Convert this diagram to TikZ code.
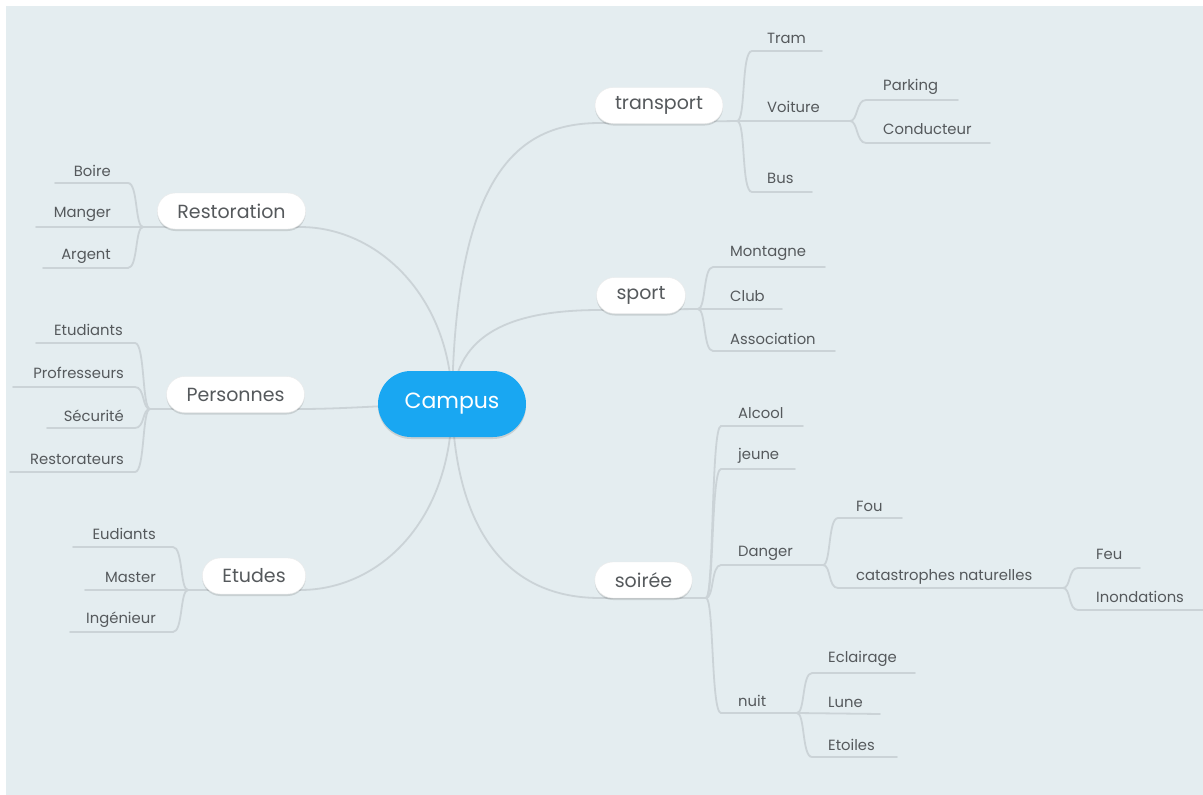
\documentclass[tikz,border=0pt]{standalone}
\usepackage{fontspec}
\setmainfont{Poppins}
\usetikzlibrary{shadows}
\definecolor{bgc}{HTML}{E4EDF0}
\definecolor{lnc}{HTML}{CBD3D7}
\definecolor{txc}{HTML}{55595C}
\definecolor{cmp}{HTML}{19A7F2}
\pgfdeclarelayer{back}
\pgfdeclarelayer{lines}
\pgfsetlayers{back,lines,main}
\tikzset{
  ln/.style={draw=lnc, line width=1.8pt, line cap=round},
  leaf/.style={font=\fontsize{14.8}{16}\selectfont, text=txc, inner sep=0pt},
  lleaf/.style={leaf, anchor=east},
  rleaf/.style={leaf, anchor=west},
  pill/.style={fill=white, draw=white!92!black, line width=0.4pt, rounded corners=18pt,
    minimum height=36pt, inner xsep=20pt, text=txc, font=\fontsize{19}{21}\selectfont,
    drop shadow={shadow xshift=0pt, shadow yshift=-2pt, fill=black, opacity=0.12}},
  hub/.style={fill=cmp, rounded corners=33pt, minimum height=66pt, minimum width=148pt,
    text=white, font=\fontsize{22}{24}\selectfont,
    drop shadow={shadow xshift=0pt, shadow yshift=-2pt, fill=black, opacity=0.12}},
}
\begin{document}
\begin{tikzpicture}[x=1pt,y=-1pt]
\useasboundingbox (0,0) rectangle (1203,795);
\begin{pgfonlayer}{back}
\fill[white] (0,0) rectangle (1203,795);
\fill[bgc] (6,6) rectangle (1203,795);
\end{pgfonlayer}

% hub and main nodes
\node[hub] (campus) at (452,404) {Campus};
\node[pill] (transport) at (659,105.5) {transport};
\node[pill] (sport) at (641,295.5) {sport};
\node[pill] (soiree) at (643.5,580) {soirée};
\node[pill] (restoration) at (231.5,211) {Restoration};
\node[pill] (personnes) at (235.5,394.5) {Personnes};
\node[pill] (etudes) at (254,576) {Etudes};

% junction coordinates
\coordinate (tr-j) at (737,121);
\coordinate (vo-j) at (850,121);
\coordinate (sp-j) at (698,309);
\coordinate (so-j) at (706,598);
\coordinate (da-j) at (823,565);
\coordinate (ca-j) at (1063,588);
\coordinate (nu-j) at (797,713);
\coordinate (re-j) at (143,227);
\coordinate (pe-j) at (150,409);
\coordinate (et-j) at (188,590);

% underline coordinates (start, end)
\coordinate (tram-s) at (752,51);  \coordinate (tram-e) at (822,51);
\coordinate (bus-s) at (752,192);  \coordinate (bus-e) at (812,192);
\coordinate (park-s) at (866,100); \coordinate (park-e) at (958,100);
\coordinate (cond-s) at (866,143); \coordinate (cond-e) at (990,143);
\coordinate (mont-s) at (713,267); \coordinate (mont-e) at (825,267);
\coordinate (club-e) at (782,309);
\coordinate (asso-s) at (713,351); \coordinate (asso-e) at (835,351);
\coordinate (alc-s) at (721,426);  \coordinate (alc-e) at (803,426);
\coordinate (jeu-s) at (721,469);  \coordinate (jeu-e) at (795,469);
\coordinate (dan-s) at (721,565);
\coordinate (nui-s) at (721,713);
\coordinate (fou-s) at (838,518);  \coordinate (fou-e) at (902,518);
\coordinate (cat-s) at (838,588);
\coordinate (feu-s) at (1078,568); \coordinate (feu-e) at (1140,568);
\coordinate (ino-s) at (1078,610); \coordinate (ino-e) at (1203,610);
\coordinate (ecl-s) at (812,673);  \coordinate (ecl-e) at (915,673);
\coordinate (lun-e) at (880,714);
\coordinate (eto-s) at (812,757);  \coordinate (eto-e) at (897,757);
\coordinate (boi-s) at (128,183);  \coordinate (boi-e) at (55,183);
\coordinate (man-e) at (36,227);
\coordinate (arg-s) at (128,268);  \coordinate (arg-e) at (43,268);
\coordinate (etu-s) at (135,343);  \coordinate (etu-e) at (36,343);
\coordinate (pro-s) at (135,387);  \coordinate (pro-e) at (13,387);
\coordinate (sec-s) at (135,428);  \coordinate (sec-e) at (47,428);
\coordinate (rst-s) at (135,472);  \coordinate (rst-e) at (10,472);
\coordinate (eud-s) at (173,547);  \coordinate (eud-e) at (73,547);
\coordinate (mas-e) at (85,590);
\coordinate (ing-s) at (173,632);  \coordinate (ing-e) at (70,632);

% leaf labels
\node[rleaf] (tram) at (767,38) {Tram};
\node[rleaf] (voiture) at (767,107) {Voiture};
\node[rleaf] (bus) at (767,178) {Bus};
\node[rleaf] (parking) at (883,87) {Parking};
\node[rleaf] (conducteur) at (883,129) {Conducteur};
\node[rleaf] (montagne) at (730,253) {Montagne};
\node[rleaf] (club) at (730,296) {Club};
\node[rleaf] (association) at (730,339) {Association};
\node[rleaf] (alcool) at (738,413) {Alcool};
\node[rleaf] (jeune) at (738,456) {jeune};
\node[rleaf] (danger) at (738,553) {Danger};
\node[rleaf] (nuit) at (738,701) {nuit};
\node[rleaf] (fou) at (856,506) {Fou};
\node[rleaf] (catas) at (856,577) {catastrophes naturelles};
\node[rleaf] (feu) at (1096,554) {Feu};
\node[rleaf] (inond) at (1096,597) {Inondations};
\node[rleaf] (eclairage) at (828,659) {Eclairage};
\node[rleaf] (lune) at (828,702) {Lune};
\node[rleaf] (etoiles) at (828,745) {Etoiles};
\node[lleaf] (boire) at (111,171) {Boire};
\node[lleaf] (manger) at (111,214) {Manger};
\node[lleaf] (argent) at (111,256) {Argent};
\node[lleaf] (etudiants) at (123,330) {Etudiants};
\node[lleaf] (prof) at (124,373) {Profresseurs};
\node[lleaf] (secu) at (124,416) {Sécurité};
\node[lleaf] (restorateurs) at (124,459) {Restorateurs};
\node[lleaf] (eudiants) at (156,534) {Eudiants};
\node[lleaf] (master) at (156,577) {Master};
\node[lleaf] (inge) at (156,620) {Ingénieur};

\begin{pgfonlayer}{lines}
% main branches
\draw[ln] (campus.center) .. controls (455,170) and (520,123) .. (600,123) -- (tr-j);
\draw[ln] (campus.center) .. controls (455,340) and (500,310) .. (600,310) -- (sp-j);
\draw[ln] (campus.center) .. controls (455,520) and (500,598) .. (600,598) -- (so-j);
\draw[ln] (campus.center) .. controls (452,300) and (380,227) .. (300,227) -- (re-j);
\draw[ln] (campus.center) .. controls (400,404) and (350,409) .. (300,409) -- (pe-j);
\draw[ln] (campus.center) .. controls (452,520) and (380,590) .. (300,590) -- (et-j);
% transport
\draw[ln] (tr-j) .. controls +(9,0) and +(-11,0) .. (tram-s) -- (tram-e);
\draw[ln] (tr-j) -- (vo-j);
\draw[ln] (tr-j) .. controls +(9,0) and +(-11,0) .. (bus-s) -- (bus-e);
\draw[ln] (vo-j) .. controls +(8,0) and +(-10,0) .. (park-s) -- (park-e);
\draw[ln] (vo-j) .. controls +(8,0) and +(-10,0) .. (cond-s) -- (cond-e);
% sport
\draw[ln] (sp-j) .. controls +(8,0) and +(-10,0) .. (mont-s) -- (mont-e);
\draw[ln] (sp-j) -- (club-e);
\draw[ln] (sp-j) .. controls +(8,0) and +(-10,0) .. (asso-s) -- (asso-e);
% soiree
\draw[ln] (so-j) .. controls +(8,0) and +(-10,0) .. (alc-s) -- (alc-e);
\draw[ln] (so-j) .. controls +(8,0) and +(-10,0) .. (jeu-s) -- (jeu-e);
\draw[ln] (so-j) .. controls +(8,0) and +(-10,0) .. (dan-s) -- (da-j);
\draw[ln] (so-j) .. controls +(8,0) and +(-10,0) .. (nui-s) -- (nu-j);
\draw[ln] (da-j) .. controls +(8,0) and +(-10,0) .. (fou-s) -- (fou-e);
\draw[ln] (da-j) .. controls +(8,0) and +(-10,0) .. (cat-s) -- (ca-j);
\draw[ln] (ca-j) .. controls +(8,0) and +(-10,0) .. (feu-s) -- (feu-e);
\draw[ln] (ca-j) .. controls +(8,0) and +(-10,0) .. (ino-s) -- (ino-e);
\draw[ln] (nu-j) .. controls +(8,0) and +(-10,0) .. (ecl-s) -- (ecl-e);
\draw[ln] (nu-j) -- (lun-e);
\draw[ln] (nu-j) .. controls +(8,0) and +(-10,0) .. (eto-s) -- (eto-e);
% restoration
\draw[ln] (re-j) .. controls +(-8,0) and +(10,0) .. (boi-s) -- (boi-e);
\draw[ln] (re-j) -- (man-e);
\draw[ln] (re-j) .. controls +(-8,0) and +(10,0) .. (arg-s) -- (arg-e);
% personnes
\draw[ln] (pe-j) .. controls +(-8,0) and +(10,0) .. (etu-s) -- (etu-e);
\draw[ln] (pe-j) .. controls +(-8,0) and +(10,0) .. (pro-s) -- (pro-e);
\draw[ln] (pe-j) .. controls +(-8,0) and +(10,0) .. (sec-s) -- (sec-e);
\draw[ln] (pe-j) .. controls +(-8,0) and +(10,0) .. (rst-s) -- (rst-e);
% etudes
\draw[ln] (et-j) .. controls +(-8,0) and +(10,0) .. (eud-s) -- (eud-e);
\draw[ln] (et-j) -- (mas-e);
\draw[ln] (et-j) .. controls +(-8,0) and +(10,0) .. (ing-s) -- (ing-e);
\end{pgfonlayer}
\end{tikzpicture}
\end{document}
